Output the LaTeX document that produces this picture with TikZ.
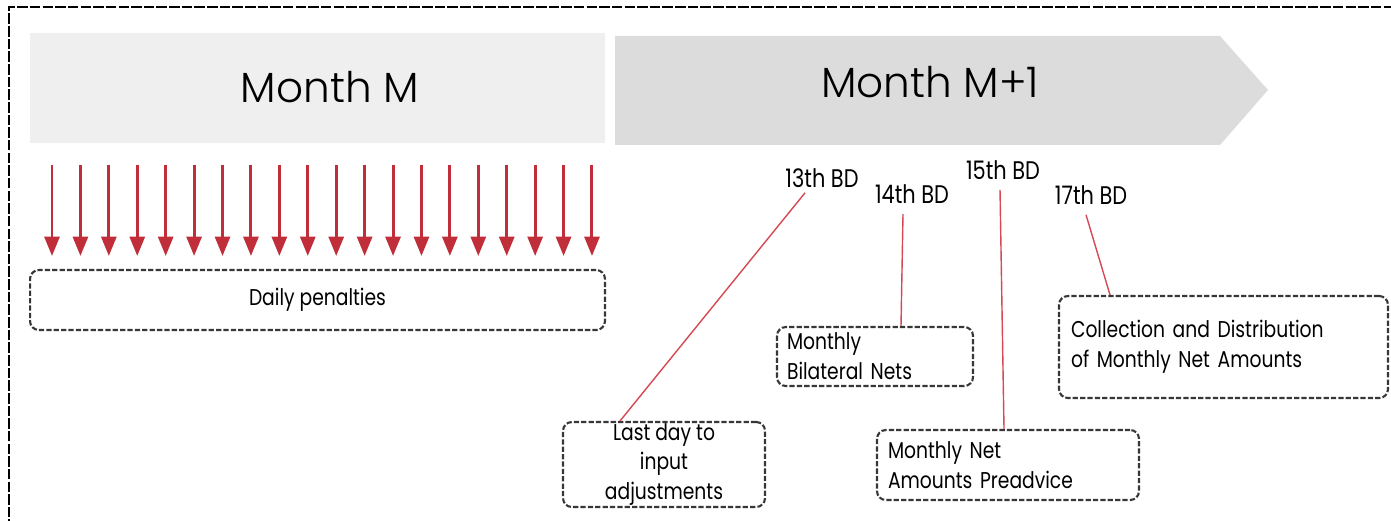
\documentclass[tikz,border=0pt]{standalone}
\usepackage{fontspec}
\setmainfont{Poppins}
\newfontfamily\slimfont[FakeStretch=0.82]{Poppins}
\newfontfamily\thinfont{Poppins Light}
\usetikzlibrary{arrows.meta,calc}
\definecolor{penred}{RGB}{192,46,58}
\definecolor{linkred}{RGB}{214,72,84}
\definecolor{boxgray}{RGB}{55,55,55}
\definecolor{monthA}{RGB}{239,239,239}
\definecolor{monthB}{RGB}{220,220,220}
\tikzset{
  frame/.style={draw=black, line width=1.4pt, dash pattern=on 6pt off 1.2pt},
  notebox/.style={draw=boxgray, line width=1.2pt, dash pattern=on 3pt off 1.2pt,
    rounded corners=5pt, inner sep=0pt, fill=white},
  penarrow/.style={draw=penred, line width=1.7pt, -{Triangle[width=8.5pt,length=11pt]}},
  link/.style={draw=linkred, line width=0.8pt},
  bdlabel/.style={font=\slimfont\fontsize{14.5}{16}\selectfont, inner sep=0pt},
  boxtext/.style={font=\slimfont\fontsize{13}{17}\selectfont},
  title/.style={font=\thinfont\fontsize{24}{28}\selectfont, inner sep=0pt}
}
\begin{document}
\begin{tikzpicture}[x=0.02cm, y=-0.02cm]
\useasboundingbox (0,0) rectangle (1391,520);
\clip (0,0) rectangle (1391,520);
% outer dashed frame (runs past the page on the right and bottom)
\draw[frame] (9,530) -- (9,7) -- (1400,7);

% month bands
\fill[monthA] (30,33) rectangle (605,143);
\node[title] (mm) at (330,87) {Month M};
\fill[monthB] (615,36) -- (1220,36) -- (1268,90) -- (1220,145) -- (615,145) -- cycle;
\node[title] (mm1) at (930,82) {Month M+1};

% daily penalty arrows
\foreach \i in {0,...,19} {
  \coordinate (t\i) at ({52+\i*28.42},165);
  \coordinate (b\i) at ({52+\i*28.42},256);
  \draw[penarrow] (t\i) -- (b\i);
}
\node[notebox, minimum width=11.5cm, minimum height=1.2cm, boxtext] (daily) at (317.5,300) {Daily penalties};

% business day labels
\node[bdlabel] (l13) at (822,178) {13th BD};
\node[bdlabel] (l14) at (912,194) {14th BD};
\node[bdlabel] (l15) at (1003,170) {15th BD};
\node[bdlabel] (l17) at (1091,195) {17th BD};

% milestone boxes
\node[notebox, minimum width=4.04cm, minimum height=1.7cm, boxtext, align=center] (last) at (664,464.5)
  {Last day to\\input\\adjustments};
\node[notebox, minimum width=3.92cm, minimum height=1.18cm, boxtext, align=left,
  text width=3.52cm] (bil) at (875,356.5) {Monthly\\Bilateral Nets};
\node[notebox, minimum width=5.24cm, minimum height=1.4cm, boxtext, align=left,
  text width=4.8cm] (pre) at (1008,465) {Monthly Net\\Amounts Preadvice};
\node[notebox, minimum width=6.58cm, minimum height=2.04cm, boxtext, align=left,
  text width=6.1cm] (coll) at (1223.5,347) {Collection and Distribution\\of Monthly Net Amounts};

% connectors from day labels to milestones
\draw[link] ([xshift=-0.34cm,yshift=-0.1cm]l13.south) -- ([xshift=-0.88cm]last.north);
\draw[link] ([xshift=-0.18cm,yshift=-0.2cm]l14.south) -- ([xshift=0.52cm]bil.north);
\draw[link] ([xshift=-0.06cm,yshift=-0.2cm]l15.south) -- ([xshift=-0.08cm]pre.north);
\draw[link] ([xshift=-0.1cm,yshift=-0.2cm]l17.south) -- ([xshift=-2.27cm]coll.north);
\end{tikzpicture}
\end{document}
